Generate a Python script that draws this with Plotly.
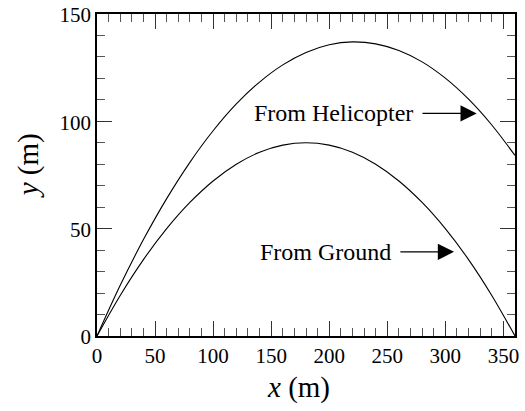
import plotly.graph_objects as go

# Data
x_vals = [0, 20, 40, 60, 80, 100, 120, 140, 160, 180, 200, 220, 240, 260, 280, 300, 320, 340, 360]
y_ground = [0, 18.9, 35.6, 50.0, 62.2, 72.2, 80.0, 85.6, 88.9, 90.0, 88.9, 85.6, 80.0, 72.2, 62.2, 50.0, 35.6, 18.9, 0]
y_heli = [0, 23.6, 44.9, 64.0, 80.9, 95.6, 108.1, 118.3, 126.3, 132.1, 135.7, 137.0, 136.1, 133.0, 127.7, 120.1, 110.3, 98.3, 84.1]

label_heli = "From Helicopter"
label_ground = "From Ground"
heli_arrow = [279, 327, 103.7]    # x start, x end, y
ground_arrow = [260, 307.5, 39.2]

FONT = "Liberation Serif"

fig = go.Figure()
fig.add_trace(go.Scatter(x=x_vals, y=y_heli, mode="lines", line=dict(color="black", width=1.1, shape="spline"),
                         showlegend=False, hoverinfo="skip"))
fig.add_trace(go.Scatter(x=x_vals, y=y_ground, mode="lines", line=dict(color="black", width=1.1, shape="spline"),
                         showlegend=False, hoverinfo="skip"))

axis_common = dict(
    showline=True, linecolor="black", linewidth=1.5, mirror="ticks",
    ticks="inside", ticklen=15, tickwidth=1, tickcolor="#333",
    showgrid=False, zeroline=False, automargin=False, ticklabeloverflow="allow",
    tickfont=dict(family=FONT, size=21, color="black"),
    minor=dict(ticks="inside", ticklen=8, dtick=10, tickwidth=1, tickcolor="#555", showgrid=False),
)

fig.update_xaxes(range=[0, 360], dtick=50, tick0=0, **axis_common)
fig.update_yaxes(range=[0, 150], dtick=50, tick0=0, ticklabelshift=1, **axis_common)

annotations = [
    dict(x=heli_arrow[0] - 5, y=heli_arrow[2], xref="x", yref="y", text=label_heli, showarrow=False,
         xanchor="right", yanchor="middle", font=dict(family=FONT, size=24, color="black")),
    dict(x=heli_arrow[1], y=heli_arrow[2], ax=heli_arrow[0], ay=heli_arrow[2], xref="x", yref="y",
         axref="x", ayref="y", text="", showarrow=True, arrowhead=2, arrowsize=2.7, arrowwidth=1.2,
         arrowcolor="black"),
    dict(x=ground_arrow[0] - 5, y=ground_arrow[2], xref="x", yref="y", text=label_ground, showarrow=False,
         xanchor="right", yanchor="middle", font=dict(family=FONT, size=24, color="black")),
    dict(x=ground_arrow[1], y=ground_arrow[2], ax=ground_arrow[0], ay=ground_arrow[2], xref="x", yref="y",
         axref="x", ayref="y", text="", showarrow=True, arrowhead=2, arrowsize=2.7, arrowwidth=1.2,
         arrowcolor="black"),
    dict(x=0.481, y=-0.161, xref="paper", yref="paper", text="<i>x</i> (m)", showarrow=False,
         xanchor="center", yanchor="middle", font=dict(family=FONT, size=29, color="black")),
    dict(x=-0.165, y=0.527, xref="paper", yref="paper", text="<i>y</i> (m)", showarrow=False,
         textangle=-90, xanchor="center", yanchor="middle", font=dict(family=FONT, size=29, color="black")),
]

fig.update_layout(
    width=525, height=411,
    margin=dict(l=97, r=10, t=14, b=74.5),
    paper_bgcolor="white", plot_bgcolor="white",
    annotations=annotations,
)

# Remove the default 8 px page margin so the figure fills the window exactly,
# and hide the modebar.
fig.write_html("out.html", config={"displayModeBar": False},
               post_script="document.body.style.margin='0';")
